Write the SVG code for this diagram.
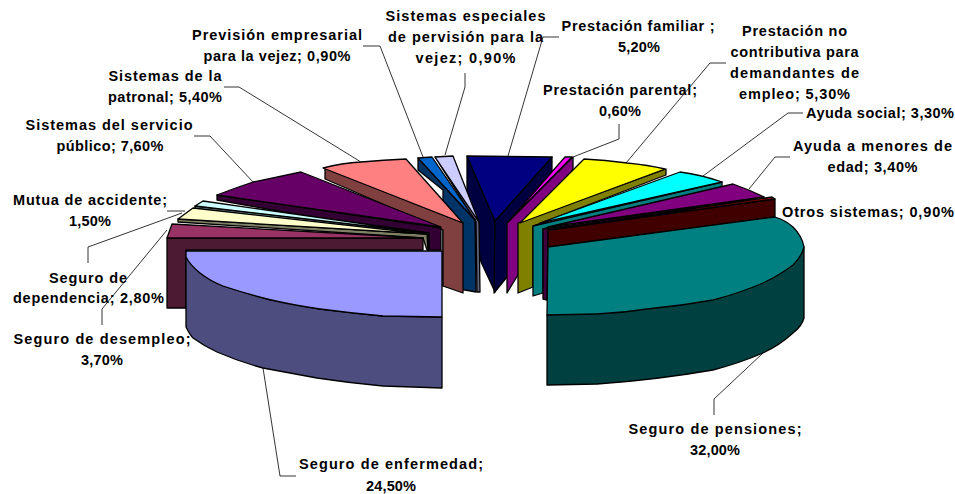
<svg xmlns="http://www.w3.org/2000/svg" width="955" height="494" viewBox="0 0 955 494">
<style>
text{font-family:"Liberation Sans",Arial,sans-serif;font-size:14.5px;font-weight:700;fill:#000;text-anchor:middle}
.s{stroke:#000;stroke-width:1.3;stroke-linejoin:round}
.l{stroke:#000;stroke-width:.8;fill:none}
</style>
<rect width="955" height="494" fill="#fff"/>
<g id="connectors">
<path class="l" d="M363 46L380 46L423 157"/>
<path class="l" d="M465 73L465 87L445 155"/>
<path class="l" d="M224 87L239 87L361 162"/>
<path class="l" d="M194 136L210 136L253 182"/>
<path class="l" d="M167 211L185 211"/>
<path class="l" d="M88 263L88 247L182 213"/>
<path class="l" d="M102 325L102 309L167 230"/>
<path class="l" d="M559 37L543 37L508 156"/>
<path class="l" d="M619 124L619 139L573 157"/>
<path class="l" d="M726 63L710 63L626 163"/>
<path class="l" d="M803 113L788 113L703 176"/>
<path class="l" d="M790 157L775 157L749 189"/>
<path class="l" d="M714 415L714 399L763 353"/>
<path class="l" d="M263 368L280 476L296 476"/>
</g>
<g id="slice-familiar">
<polygon class="s" fill="#000040" points="467,156 495,221 495,292 481,262 467,190"/>
<polygon class="s" fill="#000040" points="552,157 552,170 507,277 494,293 495,221"/>
<polygon class="s" fill="#000080" points="467,156 552,157 495,221"/>
</g>
<g id="slice-especiales">
<polygon class="s" fill="#666680" points="435,157 479,222 480,292 477,292 476,222"/>
<polygon class="s" fill="#ccccff" points="435,157 453,156 479,222"/>
</g>
<g id="slice-prevision">
<polygon class="s" fill="#003366" points="418,158 418,170 443,190 443,286 476,292 475,220"/>
<polygon class="s" fill="#0066cc" points="418,158 432,157 475,220"/>
</g>
<g id="slice-patronal">
<polygon class="s" fill="#804040" points="325,168 325,179 443,230 443,286 463,293 463,223"/>
<path class="s" fill="#ff8080" d="M323,168Q342,163 361,162Q384,160 406,159L463,223Z"/>
</g>
<g id="slice-servicio">
<polygon class="s" fill="#330033" points="217,195 217,200 300,215 423,235 428,250 441,250 441,228"/>
<path class="s" fill="#660066" d="M217,195Q235,188 253,182Q277,177 301,172L441,227Z"/>
</g>
<g id="slice-mutua">
<polygon class="s" fill="#668080" points="195,206 195,209 428,235 428,250 429,250 429,233"/>
<polygon class="s" fill="#ccffff" points="195,206 203,201 428,233"/>
</g>
<g id="slice-dependencia">
<polygon class="s" fill="#808066" points="178,219 178,222 423,238 427,250 428,250 427,234"/>
<polygon class="s" fill="#ffffcc" points="178,219 193,208 426,234"/>
</g>
<g id="slice-desempleo">
<polygon class="s" fill="#4d1a33" points="167,238 423,238 423,250 186,250 186,308 167,308"/>
<polygon class="s" fill="#993366" points="167,238 172,224 423,238"/>
</g>
<g id="slice-enfermedad">
<path class="s" fill="#4d4d80" d="M186,257L186,327Q190,335 193,338Q204,346 217,352Q240,362 263,368Q290,373 317,378Q350,383 383,386L442,388L442,317L383,316L320,309L267,299L223,286L200,273Z"/>
<path class="s" fill="#9999ff" d="M186,251L442,251L442,317L383,316Q350,313 320,309Q292,305 267,299Q244,293 223,286Q210,281 200,273Q190,265 186,257Z"/>
</g>
<g id="slice-parental">
<polygon class="s" fill="#800080" points="573,157 573,169 521,270 507,293 507,223"/>
<polygon class="s" fill="#ff00ff" points="565,157 572,157 508,222"/>
</g>
<g id="slice-prestacion">
<polygon class="s" fill="#808000" points="518,223 666,169 666,175 533,226 533,287 518,293"/>
<path class="s" fill="#ffff00" d="M584,159Q605,160 627,163Q648,165 665,169L520,223Z"/>
</g>
<g id="slice-ayuda-social">
<polygon class="s" fill="#008080" points="533,226 722,182 722,187 543,229 543,293 533,296"/>
<path class="s" fill="#00ffff" d="M680,172Q702,175 722,182L540,223Z"/>
</g>
<g id="slice-menores">
<polygon class="s" fill="#400040" points="543,229 764,197 548,232 547,300 543,299"/>
<path class="s" fill="#800080" d="M733,184Q750,190 764,197L548,227Z"/>
</g>
<g id="slice-otros">
<polygon class="s" fill="#400000" points="548,230 775,199 775,217 548,247"/>
<polygon class="s" fill="#800000" points="548,230 772,197 775,199"/>
</g>
<g id="slice-pensiones">
<path class="s" fill="#004040" d="M547,315L547,385L597,384Q655,380 713,370Q740,363 763,353Q780,345 793,333Q802,326 804,318L804,247L700,300Z"/>
<path class="s" fill="#008080" d="M548,247L775,217Q785,220 793,227Q802,236 804,247Q802,256 793,265Q780,275 763,283Q740,293 713,300Q680,306 647,309Q622,313 597,314L547,315Z"/>
</g>
<g id="labels">
<text x="277" y="40" textLength="170">Previsión empresarial</text><text x="277" y="61" textLength="147">para la vejez; 0,90%</text>
<text x="465.5" y="21" textLength="160">Sistemas especiales</text><text x="465.5" y="42" textLength="155">de pervisión para la</text><text x="465.5" y="63" textLength="100">vejez; 0,90%</text>
<text x="638" y="31" textLength="153">Prestación familiar ;</text><text x="639" y="52" textLength="42">5,20%</text>
<text x="794.5" y="36" textLength="105">Prestación no</text><text x="794.5" y="57" textLength="128">contributiva para</text><text x="794.5" y="78" textLength="129">demandantes de</text><text x="794.5" y="99" textLength="111">empleo; 5,30%</text>
<text x="620" y="95" textLength="154">Prestación parental;</text><text x="620" y="116" textLength="42">0,60%</text>
<text x="165" y="81" textLength="113">Sistemas de la</text><text x="165" y="102" textLength="114">patronal; 5,40%</text>
<text x="880" y="118" textLength="148">Ayuda social; 3,30%</text>
<text x="872.5" y="151" textLength="159">Ayuda a menores de</text><text x="872.5" y="172" textLength="90">edad; 3,40%</text>
<text x="109" y="130" textLength="167">Sistemas del servicio</text><text x="110" y="151" textLength="107">público; 7,60%</text>
<text x="90" y="205" textLength="154">Mutua de accidente;</text><text x="90" y="226" textLength="42">1,50%</text>
<text x="868" y="217" textLength="172">Otros sistemas; 0,90%</text>
<text x="88" y="283" textLength="78">Seguro de</text><text x="88.5" y="303" textLength="151">dependencia; 2,80%</text>
<text x="102" y="344" textLength="177">Seguro de desempleo;</text><text x="102" y="365" textLength="42">3,70%</text>
<text x="715" y="434" textLength="173">Seguro de pensiones;</text><text x="715" y="455" textLength="50">32,00%</text>
<text x="391" y="469" textLength="184">Seguro de enfermedad;</text><text x="391" y="491" textLength="50">24,50%</text>
</g>
</svg>
